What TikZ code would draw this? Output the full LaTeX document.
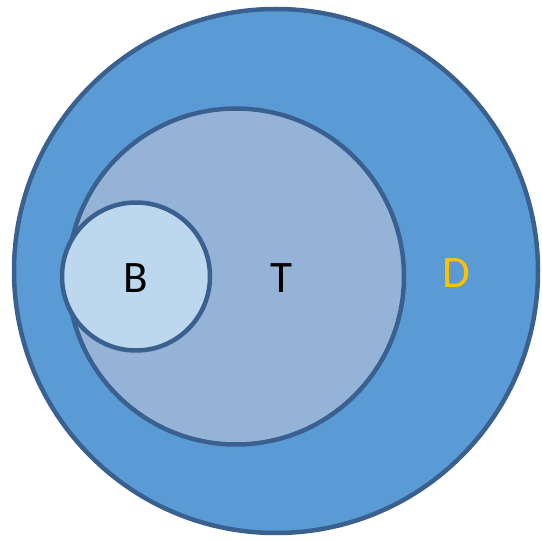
\documentclass[tikz,border=0pt]{standalone}
\usepackage{fontspec}
\setmainfont{Carlito}
\usepackage{tikz}
\definecolor{rimblue}{HTML}{3A6090}
\definecolor{dfill}{HTML}{5B9BD5}
\definecolor{tfill}{HTML}{95B3D7}
\definecolor{bfill}{HTML}{BDD7EE}
\definecolor{dgold}{HTML}{FFC000}
\tikzset{
  setc/.style={circle, draw=rimblue, line width=4.5pt, inner sep=0pt},
  lbl/.style={font=\fontsize{45}{48}\selectfont, inner sep=0pt}
}

\begin{document}
\begin{tikzpicture}[x=1pt, y=-1pt]
        \useasboundingbox (0,0) rectangle (542,540);
        \node[setc, fill=dfill, minimum size=524pt] (D) at (276,271) {};
        \node[setc, fill=tfill, minimum size=336pt] (T) at (236,276.5) {};
        \node[setc, fill=bfill, minimum size=148pt] (B) at (136,276.5) {};
        \node[lbl] (lB) at (B.center) [yshift=-2pt] {B};
        \node[lbl] (lT) at (281,276.5) [yshift=-2pt] {T};
        \node[lbl, text=dgold] (lD) at (456,271) [yshift=-2pt] {D};
      \end{tikzpicture}
\end{document}
